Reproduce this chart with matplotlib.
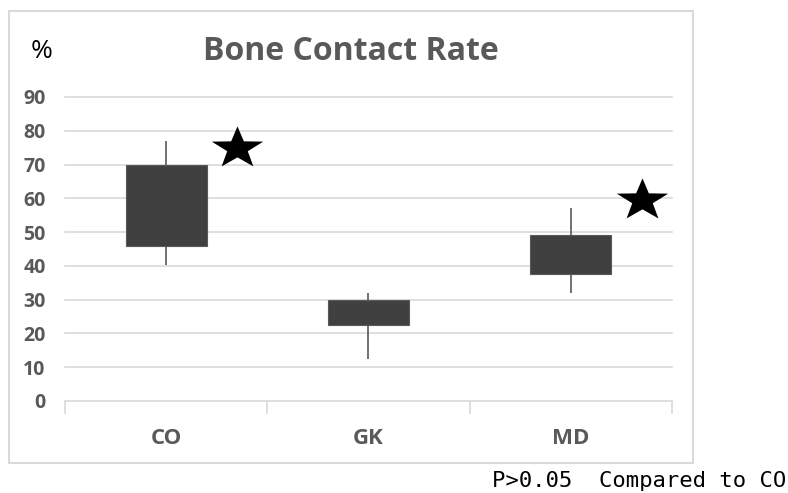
import matplotlib
matplotlib.use("Agg")
import numpy as np
import matplotlib.pyplot as plt
from matplotlib.patches import Rectangle
from matplotlib.path import Path

categories = ["CO", "GK", "MD"]
box_top = [70, 30, 49]
box_bottom = [45.8, 22.6, 37.7]
whisker_high = [77, 32, 57.2]
whisker_low = [40.3, 12.4, 32]
star_values = [75, None, 59.5]
yticks = [0, 10, 20, 30, 40, 50, 60, 70, 80, 90]

# slightly squat star marker shape
_ang = np.pi / 2 + np.arange(10) * np.pi / 5
_rad = np.where(np.arange(10) % 2 == 0, 1.0, 0.40)
_verts = np.column_stack([_rad * np.cos(_ang), 0.82 * _rad * np.sin(_ang)])
star_marker = Path(np.vstack([_verts, _verts[:1]]), closed=True)

fig = plt.figure(figsize=(7.88, 4.93), dpi=100)
fig.patch.set_facecolor("white")
fig.add_artist(Rectangle((9/788, 1-463/493), 684/788, 452/493, transform=fig.transFigure,
                         fill=False, edgecolor="#d9d9d9", linewidth=1.5))

ax = fig.add_axes([65/788, 1-401/493, 607/788, 304/493])
ax.set_xlim(-0.5, 2.5)
ax.set_ylim(0, 90)
for s in ["top", "right", "left"]:
    ax.spines[s].set_visible(False)
ax.spines["bottom"].set_color("#d9d9d9")
ax.spines["bottom"].set_linewidth(1.2)
ax.set_yticks(yticks)
ax.set_yticklabels([str(v) for v in yticks], fontsize=14, fontweight="bold", color="#595959",
                   family="Open Sans")
ax.tick_params(axis="y", length=0, pad=14)
for v in yticks[1:]:
    ax.axhline(v, color="#d9d9d9", linewidth=1.2, zorder=0, clip_on=False)

ax.set_xticks([-0.5, 0.5, 1.5, 2.5], minor=False)
ax.set_xticklabels([])
ax.tick_params(axis="x", length=9, color="#d9d9d9", width=1.2)
for i, c in enumerate(categories):
    ax.text(i, -11, c, ha="center", va="center", fontsize=16, fontweight="bold",
            color="#595959", family="Open Sans")

xs = list(range(len(categories)))
ax.vlines(xs, whisker_low, whisker_high, color="#595959", linewidth=1.2, zorder=2)
heights = [t - b for t, b in zip(box_top, box_bottom)]
ax.bar(xs, heights, bottom=box_bottom, width=0.4, color="#404040", edgecolor="#595959",
       linewidth=0.8, zorder=3)

for i, v in enumerate(star_values):
    if v is not None:
        ax.plot(i + 0.35, v, marker=star_marker, markersize=37, color="black",
                markeredgewidth=0, zorder=4, clip_on=False)

fig.text(351/788, 1-51/493, "Bone Contact Rate", ha="center", va="center", fontsize=23,
         fontweight="bold", color="#595959", family="Open Sans")
fig.text(42/788, 1-52/493, "%", ha="center", va="center", fontsize=19, color="black",
         family="Open Sans")
fig.text(786/788, 1-481/493, "P>0.05  Compared to CO", ha="right", va="center", fontsize=16,
         color="black", family="DejaVu Sans Mono")

fig.savefig("out.png", dpi=100, facecolor="white")
